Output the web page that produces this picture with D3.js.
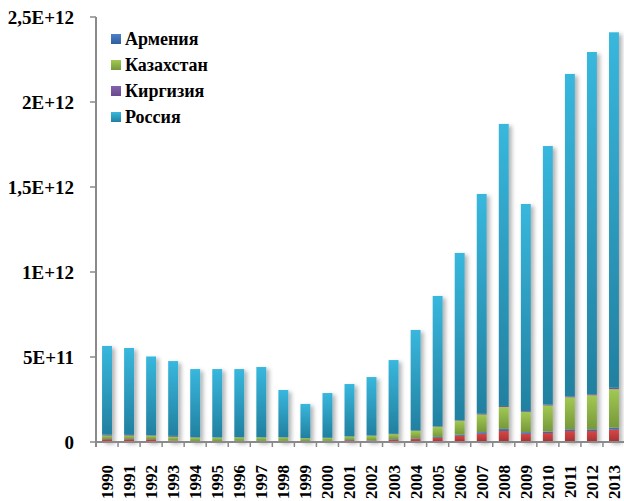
<!DOCTYPE html>
<html>
<head>
<meta charset="utf-8">
<script src="https://cdn.jsdelivr.net/npm/d3@7"></script>
<style>
  html, body { margin: 0; padding: 0; background: #fff; }
  svg { display: block; }
  text { font-family: "Liberation Serif", "Times New Roman", "DejaVu Serif", serif; font-weight: bold; fill: #000; }
</style>
</head>
<body>
<svg id="chart" width="624" height="501"></svg>
<script>
// Values in billions (1e9)
const years = ["1990","1991","1992","1993","1994","1995","1996","1997","1998","1999","2000","2001","2002","2003","2004","2005","2006","2007","2008","2009","2010","2011","2012","2013"];
const belarus    = [16,16,16,8,5,5,5,5,5,4,5,10,8,14,18,25,37,49,65,49,53,65,65,73];
const armenia    = [2,2,1,1,1,1,2,2,2,2,2,2,2,3,4,5,6,9,12,9,9,10,10,11];
const kazakhstan = [20,20,20,22,20,20,20,20,20,16,17,20,27,29,43,59,82,104,129,118,153,188,200,227];
const kyrgyzstan = [5,4,2,5,2,1,1,1,1,1,1,1,1,2,2,3,3,4,6,5,5,6,6,8];
const russia     = [522,511,464,440,401,402,401,413,278,201,263,308,344,434,592,767,984,1293,1659,1219,1521,1896,2013,2091];
const yTicks = [0, 5e11, 1e12, 1.5e12, 2e12, 2.5e12];
const yTickLabels = ["0","5E+11","1E+12","1,5E+12","2E+12","2,5E+12"];
const seriesNames = ["Беларусь","Армения","Казахстан","Киргизия","Россия"];
const legendNames = ["Армения","Казахстан","Киргизия","Россия"];

const seriesData = { "Беларусь": belarus, "Армения": armenia, "Казахстан": kazakhstan, "Киргизия": kyrgyzstan, "Россия": russia };
const colors = {
  "Беларусь": ["#D94646", "#A53131"],
  "Армения": ["#4C80C8", "#2F5E9E"],
  "Казахстан": ["#A2C952", "#76983A"],
  "Киргизия": ["#8462AC", "#684A8E"],
  "Россия": ["#38B7DD", "#2280A0"]
};

const rows = years.map((yr, i) => {
  const r = { year: yr };
  seriesNames.forEach(s => r[s] = seriesData[s][i] * 1e9);
  return r;
});

const svg = d3.select("#chart");
const defs = svg.append("defs");
seriesNames.forEach((s, i) => {
  const g = defs.append("linearGradient").attr("id", "grad" + i)
    .attr("x1", 0).attr("y1", 0).attr("x2", 0).attr("y2", 1);
  g.append("stop").attr("offset", "0%").attr("stop-color", colors[s][0]);
  g.append("stop").attr("offset", "100%").attr("stop-color", colors[s][1]);
});
const f = defs.append("filter").attr("id", "shadow").attr("x", "-50%").attr("y", "-10%").attr("width", "200%").attr("height", "120%");
f.append("feDropShadow").attr("dx", 3).attr("dy", 2).attr("stdDeviation", 2)
  .attr("flood-color", "#000").attr("flood-opacity", 0.3);

const mLeft = 96, mRight = 625, mTop = 17, mBottom = 442;
const x = d3.scaleBand().domain(years).range([mLeft, mRight]).paddingInner(0.55).paddingOuter(0.275);
const y = d3.scaleLinear().domain([0, 2.5e12]).range([mBottom, mTop]);

const stack = d3.stack().keys(seriesNames);
const layers = stack(rows);

const barsG = svg.append("g").attr("filter", "url(#shadow)");
layers.forEach((layer, li) => {
  barsG.append("g")
    .attr("fill", "url(#grad" + li + ")")
    .selectAll("rect")
    .data(layer)
    .join("rect")
    .attr("x", d => x(d.data.year))
    .attr("width", x.bandwidth())
    .attr("y", d => y(d[1]))
    .attr("height", d => Math.max(0, y(d[0]) - y(d[1])));
});

// Y axis
const axisColor = "#8a8a8a";
svg.append("line").attr("x1", mLeft).attr("x2", mLeft).attr("y1", y(2.5e12)).attr("y2", mBottom + 5)
  .attr("stroke", axisColor).attr("stroke-width", 2);
const yt = svg.append("g");
yTicks.forEach((t, i) => {
  yt.append("line").attr("x1", mLeft - 6).attr("x2", mLeft).attr("y1", y(t)).attr("y2", y(t))
    .attr("stroke", axisColor).attr("stroke-width", 1.5);
  yt.append("text").attr("x", 74).attr("y", y(t)).attr("dy", "0.35em")
    .attr("text-anchor", "end").attr("font-size", 19).text(yTickLabels[i]);
});

// X axis
svg.append("line").attr("x1", mLeft).attr("x2", mRight).attr("y1", mBottom).attr("y2", mBottom)
  .attr("stroke", axisColor).attr("stroke-width", 2);
const step = x.step();
years.forEach((yr) => {
  const bx = x(yr) - step * x.paddingInner() / 2;
  svg.append("line").attr("x1", bx).attr("x2", bx).attr("y1", mBottom).attr("y2", mBottom + 5)
    .attr("stroke", axisColor).attr("stroke-width", 1.5);
  const cx = x(yr) + x.bandwidth() / 2;
  svg.append("text").attr("transform", `translate(${cx},465) rotate(-90)`)
    .attr("dy", "0.35em").attr("text-anchor", "end").attr("font-size", 17).text(yr);
});

// Legend
const lg = svg.append("g");
legendNames.forEach((n, i) => {
  const idx = seriesNames.indexOf(n);
  const cy = 39 + i * 26;
  lg.append("rect").attr("x", 111).attr("y", cy - 5).attr("width", 10).attr("height", 10)
    .attr("fill", "url(#grad" + idx + ")");
  lg.append("text").attr("x", 125).attr("y", cy).attr("dy", "0.35em").attr("font-size", 18).text(n);
});
</script>
</body>
</html>
